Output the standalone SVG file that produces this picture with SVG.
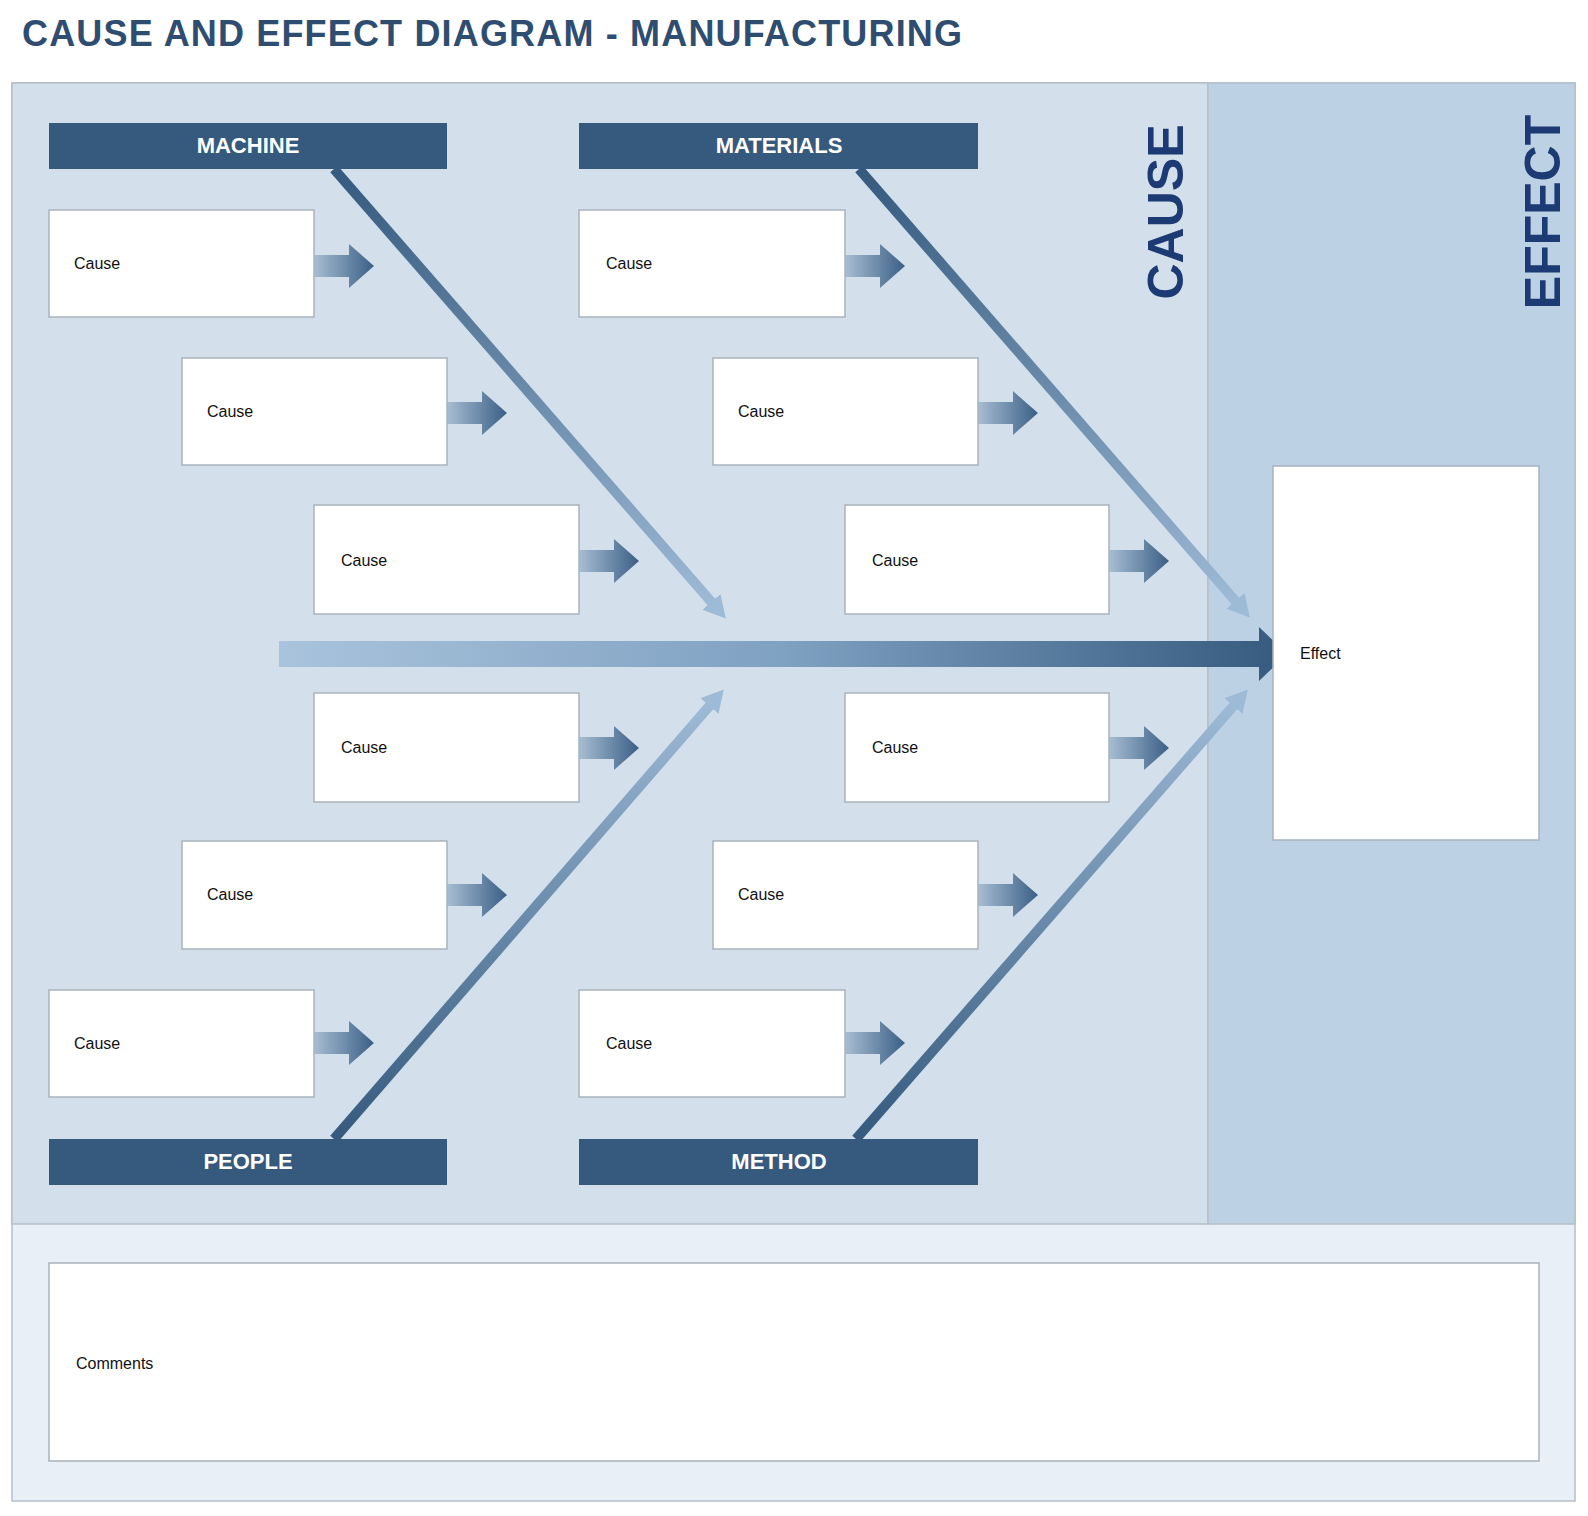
<svg xmlns="http://www.w3.org/2000/svg" width="1588" height="1516" viewBox="0 0 1588 1516">
<style>
.bar{fill:#355a7e}
.bl{font-family:"Liberation Sans",Arial,sans-serif;font-weight:bold;font-size:22px;fill:#fff;text-anchor:middle}
.box{fill:#fff;stroke:#a9b3bd;stroke-width:1.5}
.ct{font-family:"Liberation Sans",Arial,sans-serif;font-size:16px;fill:#111}
.big{font-family:"Liberation Sans",Arial,sans-serif;font-weight:bold;font-size:50px;fill:#1c3a73}
</style>
<defs>
<linearGradient id="ga" x1="0" y1="0" x2="1" y2="0"><stop offset="0" stop-color="#c3d5e6"/><stop offset="1" stop-color="#3a5f86"/></linearGradient>
<linearGradient id="gs" x1="0" y1="0" x2="1" y2="0"><stop offset="0" stop-color="#a9c3dc"/><stop offset="0.5" stop-color="#7fa1c2"/><stop offset="1" stop-color="#355a7e"/></linearGradient>
<linearGradient id="gd" x1="0" y1="0" x2="0" y2="1"><stop offset="0" stop-color="#355a7e"/><stop offset="1" stop-color="#9dbad6"/></linearGradient>
<linearGradient id="gu" x1="0" y1="1" x2="0" y2="0"><stop offset="0" stop-color="#355a7e"/><stop offset="1" stop-color="#9dbad6"/></linearGradient>
<marker id="mh" markerUnits="userSpaceOnUse" markerWidth="30" markerHeight="30" refX="4" refY="12" orient="auto"><path d="M0,0 L22,12 L0,24 Z" fill="#9dbad6"/></marker>
<path id="sa" d="M-15,-11 H35 V-22 L60,0 L35,22 V11 H-15 Z" fill="url(#ga)"/>
</defs>
<text x="22" y="46" font-family="'Liberation Sans',Arial,sans-serif" font-weight="bold" font-size="36" fill="#2e4d70" textLength="940">CAUSE AND EFFECT DIAGRAM - MANUFACTURING</text>
<rect x="12" y="83" width="1563" height="1418" fill="#e9eff6" stroke="#b5bfc9" stroke-width="1.5"/>
<rect x="12" y="83" width="1196" height="1141" fill="#d3e0ec" stroke="#b5bfc9" stroke-width="1.5"/>
<rect x="1208" y="83" width="367" height="1141" fill="#bcd2e4" stroke="#b5bfc9" stroke-width="1.5"/>
<text class="big" transform="translate(1183,212) rotate(-90)" text-anchor="middle">CAUSE</text>
<text class="big" transform="translate(1560,212) rotate(-90)" text-anchor="middle">EFFECT</text>
<g id="connectors">
<line x1="334" y1="169" x2="714" y2="605" stroke="url(#gd)" stroke-width="10" marker-end="url(#mh)"/>
<line x1="859" y1="169" x2="1238" y2="604" stroke="url(#gd)" stroke-width="10" marker-end="url(#mh)"/>
<line x1="334" y1="1139" x2="712" y2="703" stroke="url(#gu)" stroke-width="10" marker-end="url(#mh)"/>
<line x1="856" y1="1139" x2="1236" y2="703" stroke="url(#gu)" stroke-width="10" marker-end="url(#mh)"/>
<path d="M279,641 H1259 V627 L1287,654 L1259,681 V667 H279 Z" fill="url(#gs)"/>
<use href="#sa" x="314" y="266"/><use href="#sa" x="845" y="266"/>
<use href="#sa" x="447" y="413"/><use href="#sa" x="978" y="413"/>
<use href="#sa" x="579" y="561"/><use href="#sa" x="1109" y="561"/>
<use href="#sa" x="579" y="748"/><use href="#sa" x="1109" y="748"/>
<use href="#sa" x="447" y="895"/><use href="#sa" x="978" y="895"/>
<use href="#sa" x="314" y="1043"/><use href="#sa" x="845" y="1043"/>
</g>
<g id="machine"><rect class="bar" x="49" y="123" width="398" height="46"/><text class="bl" x="248" y="153">MACHINE</text></g>
<g id="materials"><rect class="bar" x="579" y="123" width="399" height="46"/><text class="bl" x="779" y="153">MATERIALS</text></g>
<g id="people"><rect class="bar" x="49" y="1139" width="398" height="46"/><text class="bl" x="248" y="1169">PEOPLE</text></g>
<g id="method"><rect class="bar" x="579" y="1139" width="399" height="46"/><text class="bl" x="779" y="1169">METHOD</text></g>
<g id="c1"><rect class="box" x="49" y="210" width="265" height="107"/><text class="ct" x="74" y="269">Cause</text></g>
<g id="c2"><rect class="box" x="182" y="358" width="265" height="107"/><text class="ct" x="207" y="417">Cause</text></g>
<g id="c3"><rect class="box" x="314" y="505" width="265" height="109"/><text class="ct" x="341" y="566">Cause</text></g>
<g id="c4"><rect class="box" x="579" y="210" width="266" height="107"/><text class="ct" x="606" y="269">Cause</text></g>
<g id="c5"><rect class="box" x="713" y="358" width="265" height="107"/><text class="ct" x="738" y="417">Cause</text></g>
<g id="c6"><rect class="box" x="845" y="505" width="264" height="109"/><text class="ct" x="872" y="566">Cause</text></g>
<g id="c7"><rect class="box" x="314" y="693" width="265" height="109"/><text class="ct" x="341" y="753">Cause</text></g>
<g id="c8"><rect class="box" x="182" y="841" width="265" height="108"/><text class="ct" x="207" y="900">Cause</text></g>
<g id="c9"><rect class="box" x="49" y="990" width="265" height="107"/><text class="ct" x="74" y="1049">Cause</text></g>
<g id="c10"><rect class="box" x="845" y="693" width="264" height="109"/><text class="ct" x="872" y="753">Cause</text></g>
<g id="c11"><rect class="box" x="713" y="841" width="265" height="108"/><text class="ct" x="738" y="900">Cause</text></g>
<g id="c12"><rect class="box" x="579" y="990" width="266" height="107"/><text class="ct" x="606" y="1049">Cause</text></g>
<g id="effect"><rect class="box" x="1273" y="466" width="266" height="374"/><text class="ct" x="1300" y="659">Effect</text></g>
<g id="comments"><rect class="box" x="49" y="1263" width="1490" height="198"/><text class="ct" x="76" y="1369">Comments</text></g>
</svg>
